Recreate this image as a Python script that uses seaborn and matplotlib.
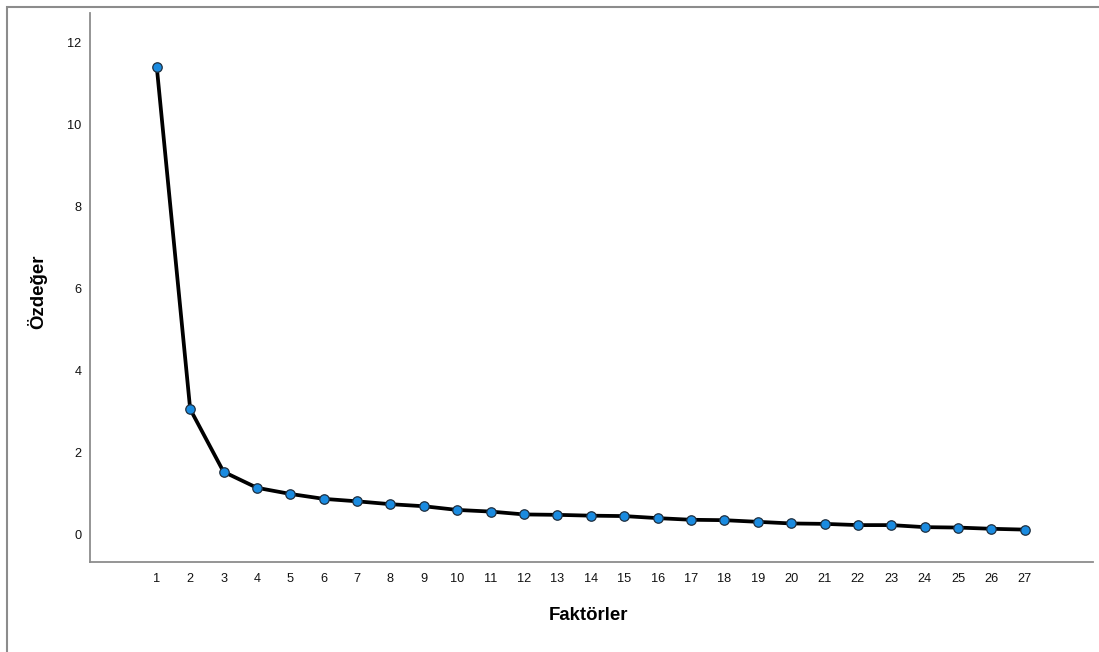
import matplotlib
matplotlib.use("Agg")
import matplotlib.pyplot as plt
import seaborn as sns
import pandas as pd
from matplotlib.patches import Rectangle

# Scree plot values
factors = list(range(1, 28))
eigenvalues = [11.41, 3.07, 1.54, 1.15, 1.00, 0.88, 0.82, 0.75, 0.70, 0.61,
               0.57, 0.50, 0.49, 0.47, 0.46, 0.41, 0.37, 0.36, 0.32, 0.28,
               0.27, 0.24, 0.24, 0.19, 0.18, 0.15, 0.13]
y_ticks = [0, 2, 4, 6, 8, 10, 12]
x_label = "Faktörler"
y_label = "Özdeğer"

df = pd.DataFrame({"factor": factors, "eigen": eigenvalues})

sns.set_style("white")
plt.rcParams["font.family"] = ["Liberation Sans", "DejaVu Sans"]

fig = plt.figure(figsize=(10.99, 6.52), dpi=100)
ax = fig.add_axes([90 / 1099, 1 - 562 / 652, (1093 - 90) / 1099, (562 - 13) / 652])

sns.lineplot(data=df, x="factor", y="eigen", ax=ax, color="black", linewidth=2.7,
             marker="o", markersize=6.8, markerfacecolor="#1a8be0",
             markeredgecolor="#1f2f3f", markeredgewidth=0.9)

ax.set_xlim(-1.0, 29.04)
ax.set_ylim(-0.66, 12.73)
ax.set_xticks(factors)
ax.set_yticks(y_ticks)
ax.tick_params(length=0, labelsize=9.2, colors="#111111", pad=6)
ax.tick_params(axis="x", pad=8)

for side in ["top", "right"]:
    ax.spines[side].set_visible(False)
for side in ["left", "bottom"]:
    ax.spines[side].set_color("#8c8c8c")
    ax.spines[side].set_linewidth(1.3)

ax.set_xlabel("")
ax.set_ylabel("")
fig.text(588 / 1099, 1 - 615 / 652, x_label, ha="center", va="center",
         fontsize=13.4, fontweight="bold", color="black")
fig.text(37 / 1099, 1 - 292 / 652, y_label, ha="center", va="center",
         rotation=90, fontsize=13.4, fontweight="bold", color="black")

# outer chart frame (only left and top edges show in the picture)
fig.patches.append(Rectangle((7 / 1099, -0.5), 1.2, 1.5 - 7 / 652, transform=fig.transFigure,
                             fill=False, edgecolor="#8c8c8c", linewidth=1.5))

fig.savefig("out.png", dpi=100)
